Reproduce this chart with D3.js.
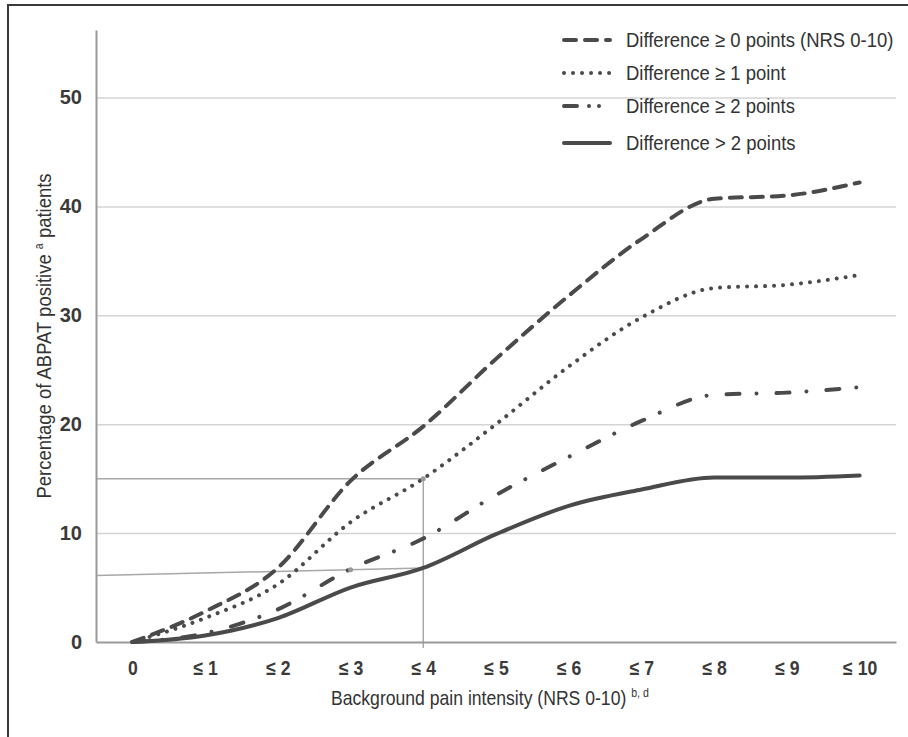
<!DOCTYPE html>
<html>
<head>
<meta charset="utf-8">
<script src="https://cdn.jsdelivr.net/npm/d3@7"></script>
<style>
  body { margin: 0; background: #fff; }
  svg { display: block; font-family: "Liberation Sans", Arial, sans-serif; }
</style>
</head>
<body>
<div id="chart"></div>
<script>
// Data
const categories = ['0', '≤ 1', '≤ 2', '≤ 3', '≤ 4', '≤ 5', '≤ 6', '≤ 7', '≤ 8', '≤ 9', '≤ 10'];
const diff0 = [0, 2.8, 6.8, 14.8, 19.8, 26.0, 31.8, 37.0, 40.7, 41.0, 42.2];
const diff1 = [0, 2.2, 5.3, 11.0, 15.0, 20.0, 25.3, 29.8, 32.5, 32.8, 33.7];
const diff2 = [0, 0.8, 3.0, 6.7, 9.5, 13.5, 17.0, 20.3, 22.7, 22.9, 23.4];
const diff3 = [0, 0.6, 2.2, 5.0, 6.8, 9.9, 12.5, 14.0, 15.1, 15.1, 15.3];
const seriesNames = [
    'Difference ≥ 0 points (NRS 0-10)',
    'Difference ≥ 1 point',
    'Difference ≥ 2 points',
    'Difference > 2 points'
];
const yTicks = [0, 10, 20, 30, 40, 50];
const gridTicks = [10, 20, 30, 40, 50];

// guide lines drawn on the figure (value at y-axis, value at the ≤ 4 column)
const guideCategory = '≤ 4';
const guideUpper = [15, 15];
const guideLower = [6.1, 6.8];

const width = 908, height = 737;
const ink = '#4a4a4a';
const narrow = 0.88;

const svg = d3.select('#chart').append('svg')
    .attr('width', width)
    .attr('height', height);

// frame (left + top edges only are visible)
svg.append('path')
    .attr('d', `M8,${height}V5H${width}`)
    .attr('fill', 'none')
    .attr('stroke', '#3a3a3a')
    .attr('stroke-width', 2);

const x = d3.scalePoint()
    .domain(categories)
    .range([96, 896])
    .padding(0.5);

const y = d3.scaleLinear()
    .domain([0, 56.2])
    .range([642, 30]);

// gridlines
svg.append('g')
    .attr('transform', 'translate(96,0)')
    .call(d3.axisLeft(y).tickValues(gridTicks).tickSize(-800).tickFormat(''))
    .call(g => g.select('.domain').remove())
    .call(g => g.selectAll('line').attr('stroke', '#d4d4d4').attr('stroke-width', 1.5));

// guide lines
const gx = x(guideCategory);
svg.append('g')
    .attr('fill', 'none')
    .attr('stroke', '#a8a8a8')
    .attr('stroke-width', 1.5)
    .call(g => {
        g.append('line')
            .attr('x1', 96).attr('y1', y(guideUpper[0]))
            .attr('x2', gx).attr('y2', y(guideUpper[1]));
        g.append('line')
            .attr('x1', 96).attr('y1', y(guideLower[0]))
            .attr('x2', gx).attr('y2', y(guideLower[1]));
        g.append('line')
            .attr('x1', gx).attr('y1', y(guideUpper[1]))
            .attr('x2', gx).attr('y2', y(0) + 6);
    });

// y axis
svg.append('g')
    .attr('transform', 'translate(96,0)')
    .call(d3.axisLeft(y).tickValues(yTicks).tickSize(0).tickPadding(14).tickSizeOuter(0))
    .call(g => g.select('.domain').attr('stroke', '#9a9a9a').attr('stroke-width', 2))
    .call(g => g.selectAll('text')
        .attr('fill', '#3a3a3a')
        .attr('font-size', 20)
        .attr('font-weight', 'bold')
        .attr('font-family', '"Liberation Sans", Arial, sans-serif'));

// x axis
svg.append('g')
    .attr('transform', `translate(0,${y(0)})`)
    .call(d3.axisBottom(x).tickSize(0).tickSizeOuter(0))
    .call(g => g.select('.domain').attr('stroke', '#9a9a9a').attr('stroke-width', 2))
    .call(g => g.selectAll('text')
        .attr('fill', '#3a3a3a')
        .attr('font-size', 20)
        .attr('font-weight', 'bold')
        .attr('font-family', '"Liberation Sans", Arial, sans-serif')
        .attr('y', 26)
        .attr('dy', '0.35em')
        .attr('transform', `scale(${narrow},1)`));

// axis titles
const xTitle = svg.append('text')
    .attr('transform', `translate(331,698) scale(${narrow},1)`)
    .attr('font-size', 20)
    .attr('fill', '#333')
    .attr('dy', '0.35em');
xTitle.append('tspan').text('Background pain intensity (NRS 0-10) ');
xTitle.append('tspan').attr('font-size', 12).attr('dy', -8).text('b, d');

const yTitle = svg.append('text')
    .attr('transform', `translate(44,336) rotate(-90) scale(${narrow},1)`)
    .attr('text-anchor', 'middle')
    .attr('font-size', 21)
    .attr('fill', '#333')
    .attr('dy', '0.35em');
yTitle.append('tspan').text('Percentage of ABPAT positive ');
yTitle.append('tspan').attr('font-size', 12).attr('dy', -8).text('a');
yTitle.append('tspan').attr('dy', 8).text(' patients');

// series
const series = [
    { name: seriesNames[0], values: diff0, dash: '12 9' },
    { name: seriesNames[1], values: diff1, dash: '0.01 9' },
    { name: seriesNames[2], values: diff2, dash: '13 17 0.01 20' },
    { name: seriesNames[3], values: diff3, dash: null }
];

const line = d3.line()
    .x((d, i) => x(categories[i]))
    .y(d => y(d))
    .curve(d3.curveMonotoneX);

svg.append('g')
    .selectAll('path')
    .data(series)
    .join('path')
    .attr('d', d => line(d.values))
    .attr('fill', 'none')
    .attr('stroke', ink)
    .attr('stroke-width', 4)
    .attr('stroke-linecap', 'round')
    .attr('stroke-linejoin', 'round')
    .attr('stroke-dasharray', d => d.dash);

// small markers where guides meet the curves
svg.append('g')
    .selectAll('circle')
    .data([[guideCategory, guideUpper[1]], ['≤ 3', guideLower[0] + (guideLower[1] - guideLower[0]) * (x('≤ 3') - 96) / (gx - 96)]])
    .join('circle')
    .attr('cx', d => x(d[0]))
    .attr('cy', d => y(d[1]))
    .attr('r', 2.5)
    .attr('fill', '#999');

// legend
const legendY = [40, 73, 106, 143];
const legend = svg.append('g')
    .selectAll('g')
    .data(series)
    .join('g')
    .attr('transform', (d, i) => `translate(0,${legendY[i]})`);

legend.append('line')
    .attr('x1', 564).attr('x2', 610)
    .attr('stroke', ink)
    .attr('stroke-width', 4)
    .attr('stroke-linecap', 'round')
    .attr('stroke-dasharray', (d, i) => i === 2 ? '13 12 0.01 10 0.01 20' : d.dash);

legend.append('text')
    .attr('transform', `translate(626,0) scale(${narrow},1)`)
    .attr('dy', '0.35em')
    .attr('font-size', 21)
    .attr('fill', '#333')
    .text(d => d.name);
</script>
</body>
</html>
